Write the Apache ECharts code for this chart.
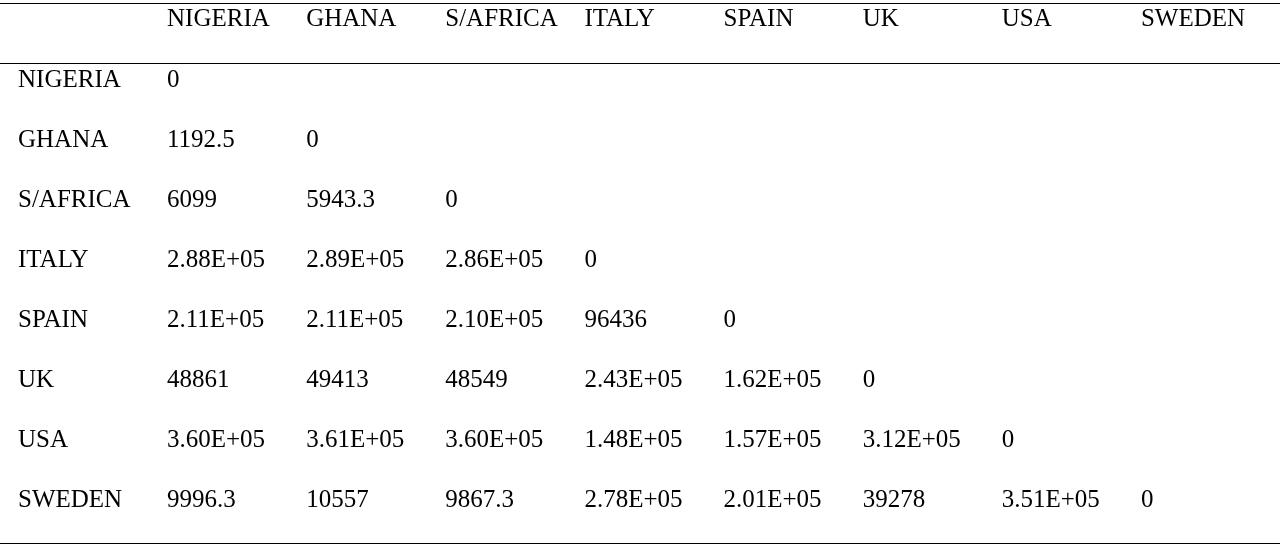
<!DOCTYPE html>
<html><head><meta charset="utf-8">
<script src="https://cdn.jsdelivr.net/npm/echarts@6/dist/echarts.min.js"></script>
<style>html,body{margin:0;background:#fff}#c{width:1280px;height:547px}</style>
</head><body><div id="c"></div>
<script>
const columns = ['NIGERIA','GHANA','S/AFRICA','ITALY','SPAIN','UK','USA','SWEDEN'];
const rows = ['NIGERIA','GHANA','S/AFRICA','ITALY','SPAIN','UK','USA','SWEDEN'];
const values = [
  ['0'],
  ['1192.5','0'],
  ['6099','5943.3','0'],
  ['2.88E+05','2.89E+05','2.86E+05','0'],
  ['2.11E+05','2.11E+05','2.10E+05','96436','0'],
  ['48861','49413','48549','2.43E+05','1.62E+05','0'],
  ['3.60E+05','3.61E+05','3.60E+05','1.48E+05','1.57E+05','3.12E+05','0'],
  ['9996.3','10557','9867.3','2.78E+05','2.01E+05','39278','3.51E+05','0']
];
const cells = [];
values.forEach((r,i)=>r.forEach((v,j)=>cells.push([j,i])));
const headerCells = columns.map((c,j)=>[j,0]);
const FF = 'Liberation Serif', FS = 25;
const chart = echarts.init(document.getElementById('c'));
function textAt(api, str, dy){
  const p = api.coord([api.value(0),api.value(1)]);
  const w = api.size([1,1])[0];
  return {type:'text',style:{text:str,x:p[0]-w/2,y:p[1]+dy,align:'left',verticalAlign:'middle',
    fill:'#000',fontFamily:FF,fontSize:FS}};
}
chart.setOption({
  animation:false,
  grid:{left:167,right:0,top:50,bottom:17},
  xAxis:{type:'category',data:columns,axisLine:{show:false},axisTick:{show:false},
    splitLine:{show:false},axisLabel:{show:false}},
  yAxis:{type:'category',data:rows,inverse:true,axisLine:{show:false},axisTick:{show:false},
    axisLabel:{fontFamily:FF,fontSize:FS,color:'#000',align:'left',margin:149}},
  series:[
    {type:'custom',data:cells,renderItem:(params,api)=>
      textAt(api, values[api.value(1)][api.value(0)], 0)},
    {type:'custom',data:headerCells,renderItem:(params,api)=>
      textAt(api, columns[api.value(0)], -61)}
  ],
  graphic:[
    {type:'line',shape:{x1:0,y1:3.5,x2:1280,y2:3.5},style:{stroke:'#000',lineWidth:1}},
    {type:'line',shape:{x1:0,y1:63.5,x2:1280,y2:63.5},style:{stroke:'#000',lineWidth:1}},
    {type:'line',shape:{x1:0,y1:543.5,x2:1280,y2:543.5},style:{stroke:'#000',lineWidth:1}}
  ]
});
</script></body></html>
